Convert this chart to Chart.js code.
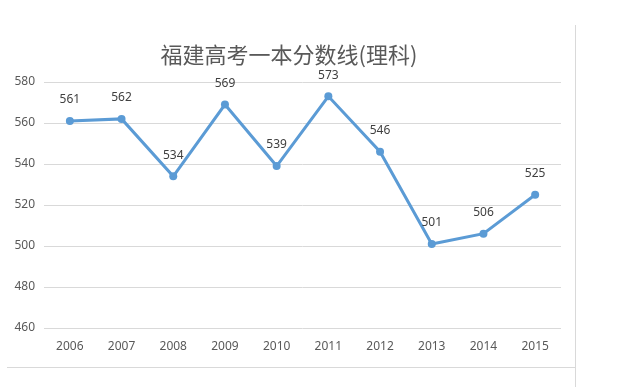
<!DOCTYPE html>
<html>
<head>
<meta charset="utf-8">
<script src="https://cdn.jsdelivr.net/npm/chart.js@4/dist/chart.umd.min.js"></script>
<style>
  html, body { margin: 0; padding: 0; background: #fff; }
  #wrap { width: 633px; height: 387px; }
</style>
</head>
<body>
<div id="wrap"><canvas id="c" width="633" height="387"></canvas></div>
<script>
const chartTitle = '福建高考一本分数线(理科)';
const years = ['2006', '2007', '2008', '2009', '2010', '2011', '2012', '2013', '2014', '2015'];
const scores = [561, 562, 534, 569, 539, 573, 546, 501, 506, 525];
const yTicks = [460, 480, 500, 520, 540, 560, 580];

// value labels over each point
const pointLabels = {
  id: 'pointLabels',
  afterDatasetsDraw (chart) {
    const ctx = chart.ctx
    const meta = chart.getDatasetMeta(0)
    ctx.save()
    ctx.font = '12px "Noto Sans", sans-serif'
    ctx.fillStyle = '#404040'
    ctx.textAlign = 'center'
    ctx.textBaseline = 'middle'
    meta.data.forEach((pt, i) => {
      ctx.fillText(String(scores[i]), pt.x, pt.y - 21)
    })
    ctx.restore()
  }
}

// title is a bit right of the canvas-left/plot-right midpoint in the original
const titleText = {
  id: 'titleText',
  afterDraw (chart) {
    const ctx = chart.ctx
    ctx.save()
    ctx.font = '22px "Noto Sans CJK SC", sans-serif'
    ctx.fillStyle = '#595959'
    ctx.textAlign = 'center'
    ctx.textBaseline = 'middle'
    ctx.fillText(chartTitle, 289, 55)
    ctx.restore()
  }
}

// thin frame lines of the original sheet
const frame = {
  id: 'frame',
  beforeDraw (chart) {
    const ctx = chart.ctx
    ctx.save()
    ctx.strokeStyle = '#d9d9d9'
    ctx.lineWidth = 1
    ctx.beginPath()
    ctx.moveTo(575.5, 25)
    ctx.lineTo(575.5, 387)
    ctx.moveTo(7, 367.5)
    ctx.lineTo(575, 367.5)
    ctx.stroke()
    ctx.restore()
  }
}

new Chart(document.getElementById('c').getContext('2d'), {
  type: 'line',
  data: {
    labels: years,
    datasets: [{
      data: scores,
      borderColor: '#5b9bd5',
      backgroundColor: '#5b9bd5',
      borderWidth: 3,
      pointRadius: 4,
      pointBorderWidth: 0,
      tension: 0
    }]
  },
  options: {
    responsive: false,
    animation: false,
    layout: { padding: { top: 82, left: 0, right: 72, bottom: 34 } },
    plugins: {
      legend: { display: false },
      tooltip: { enabled: false },
      title: { display: false }
    },
    scales: {
      x: {
        offset: true,
        grid: { display: false, drawTicks: false, offset: true },
        border: { display: false },
        ticks: { color: '#595959', font: { family: '"Noto Sans", sans-serif', size: 12 }, padding: 11 },
        afterFit (scale) { scale.height = 25 }
      },
      y: {
        min: yTicks[0],
        max: yTicks[yTicks.length - 1],
        afterBuildTicks (scale) { scale.ticks = yTicks.map(v => ({ value: v })) },
        grid: { color: '#d9d9d9', drawTicks: false },
        border: { display: false },
        ticks: { color: '#595959', font: { family: '"Noto Sans", sans-serif', size: 12 }, padding: 9 },
        afterFit (scale) { scale.width = 44 }
      }
    }
  },
  plugins: [frame, pointLabels, titleText]
})
</script>
</body>
</html>
